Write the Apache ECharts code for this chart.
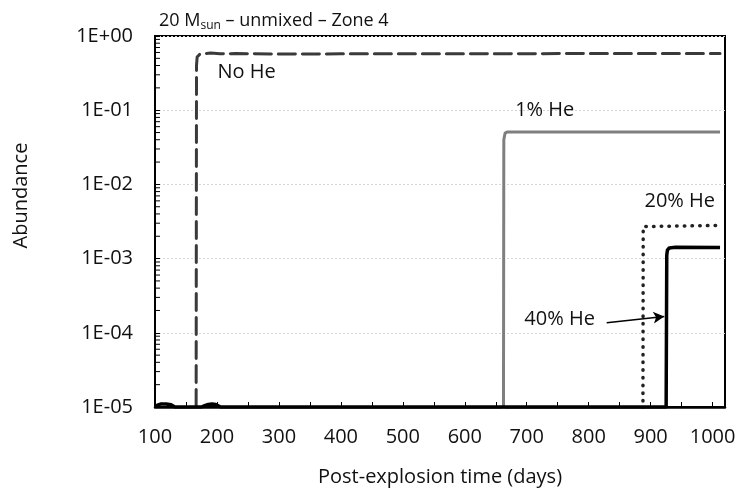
<!DOCTYPE html>
<html>
<head>
<meta charset="utf-8">
<script src="https://cdn.jsdelivr.net/npm/echarts@6/dist/echarts.min.js"></script>
<style>html,body{margin:0;padding:0;background:#fff}#c{width:747px;height:492px}</style>
</head>
<body>
<div id="c"></div>
<script>
// ---- data ----
const xTickStep = 50;                 // ticks every 50 days, labels every 100
const xMin = 100, xMax = 1020;
const yMin = 1e-5, yMax = 1;

const noHeX = [100, 166, 167, 168, 172, 180, 190, 205, 230, 300, 400, 600, 800, 1012];
const noHeY = [1e-8, 1e-8, 0.40, 0.52, 0.565, 0.58, 0.59, 0.575, 0.58, 0.57, 0.575, 0.575, 0.58, 0.58];

const onePctX = [100, 662, 663, 665, 669, 700, 1012];
const onePctY = [1e-8, 1e-8, 0.04, 0.049, 0.051, 0.051, 0.051];

const twentyX = [100, 887, 888, 890, 1012];
const twentyY = [1e-8, 1e-8, 0.0027, 0.0028, 0.0028];

const fortyX = [100, 104, 110, 118, 126, 132, 175, 180, 186, 192, 198, 206, 925, 926, 927, 930, 940, 1012];
const fortyY = [1e-5, 1.06e-5, 1.1e-5, 1.1e-5, 1.07e-5, 1e-5, 1e-5, 1.04e-5, 1.08e-5, 1.1e-5, 1.08e-5, 1e-5, 1e-5, 1.1e-3, 1.3e-3, 1.39e-3, 1.42e-3, 1.41e-3];

const labelTexts = ['No He', '1% He', '20% He', '40% He'];
const labelX = [248, 729, 947, 753];
const labelY = [0.32, 0.1, 0.006, 1.5e-4];

const arrowFrom = [829, 1.37e-4];
const arrowTo = [922, 1.66e-4];

const minorMantissas = [2, 3, 4, 5, 6, 7, 8, 9];
const decades = [-5, -4, -3, -2, -1];

// ---- build ----
const zip = (xs, ys) => xs.map((x, i) => [x, ys[i]]);
const yMinorTicks = [];
decades.forEach(d => minorMantissas.forEach(m => yMinorTicks.push([xMin, m * Math.pow(10, d)])));

const FONT = 'Open Sans';
const chart = echarts.init(document.getElementById('c'), null, {renderer: 'canvas'});
chart.setOption({
  animation: false,
  backgroundColor: '#fff',
  textStyle: {fontFamily: FONT},
  title: {
    text: '{n|20 M}{s|sun}{n| – unmixed – Zone 4}',
    left: 154, top: 5,
    textStyle: {
      fontWeight: 'normal',
      rich: {
        n: {fontFamily: FONT, fontSize: 18, fontWeight: 'normal', color: '#111'},
        s: {fontFamily: FONT, fontSize: 12, fontWeight: 'normal', color: '#111', padding: [10, 0, 0, 0]}
      }
    }
  },
  grid: {left: 155, right: 22, top: 36, bottom: 82, show: true, borderColor: '#000', borderWidth: 2, containLabel: false},
  xAxis: {
    type: 'value', min: xMin, max: xMax, interval: xTickStep,
    name: 'Post-explosion time (days)', nameLocation: 'middle', nameGap: 60,
    nameTextStyle: {fontFamily: FONT, fontSize: 20, color: '#111'},
    axisLine: {lineStyle: {color: '#000', width: 2.5}},
    axisTick: {inside: true, length: 5, interval: 0, lineStyle: {color: '#000', width: 1}},
    axisLabel: {
      interval: 0, margin: 20, fontFamily: FONT, fontSize: 20, color: '#111',
      formatter: v => (v % 100 === 0 && v <= 1000) ? String(v) : ''
    },
    splitLine: {show: false}
  },
  yAxis: {
    type: 'log', logBase: 10, min: yMin, max: yMax,
    name: 'Abundance', nameLocation: 'middle', nameGap: 124, nameRotate: 90,
    nameTextStyle: {fontFamily: FONT, fontSize: 20, color: '#111', padding: [0, 0, 0, 52]},
    axisLine: {lineStyle: {color: '#000', width: 2}},
    axisTick: {inside: true, length: 5, lineStyle: {color: '#000', width: 1}},
    axisLabel: {
      margin: 22, fontFamily: FONT, fontSize: 20, color: '#111',
      formatter: v => {
        const e = Math.round(Math.log10(v));
        return '1E' + (e < 0 ? '-' : '+') + String(Math.abs(e)).padStart(2, '0');
      }
    },
    splitLine: {show: true, lineStyle: {color: '#d4d4d4', width: 1, type: [2, 2]}}
  },
  series: [
    {
      name: 'No He', type: 'line', data: zip(noHeX, noHeY), showSymbol: false, symbol: 'none',
      lineStyle: {color: '#3a3a3a', width: 3, type: [17, 7], cap: 'round', join: 'round'}, z: 3
    },
    {
      name: '1% He', type: 'line', data: zip(onePctX, onePctY), showSymbol: false, symbol: 'none',
      lineStyle: {color: '#7f7f7f', width: 3, join: 'round'}, z: 3
    },
    {
      name: '20% He', type: 'line', data: zip(twentyX, twentyY), showSymbol: false, symbol: 'none',
      lineStyle: {color: '#222', width: 3.5, type: [0.5, 7.2], cap: 'round'}, z: 3
    },
    {
      name: '40% He', type: 'line', data: zip(fortyX, fortyY), showSymbol: false, symbol: 'none',
      lineStyle: {color: '#000', width: 3.5, join: 'round'}, z: 4,
      markLine: {
        silent: true, animation: false, symbol: ['none', 'arrow'], symbolSize: [9, 11],
        lineStyle: {color: '#000', width: 1.5, type: 'solid'},
        label: {show: false},
        data: [[{coord: arrowFrom}, {coord: arrowTo}]]
      }
    },
    {
      name: 'labels', type: 'scatter', silent: true, symbolSize: 1,
      itemStyle: {color: 'rgba(255,255,255,0)'},
      data: labelTexts.map((t, i) => [labelX[i], labelY[i], t]),
      label: {
        show: true, position: 'inside', formatter: p => p.data[2], opacity: 1,
        fontFamily: FONT, fontSize: 20, color: '#111', textBorderWidth: 0
      }, z: 6
    },
    {
      name: 'yMinorTicks', type: 'custom', silent: true, clip: false, z: 5,
      data: yMinorTicks,
      renderItem: (params, api) => {
        const p = api.coord([api.value(0), api.value(1)]);
        return {type: 'line', shape: {x1: p[0], y1: p[1], x2: p[0] + 5, y2: p[1]}, style: {stroke: '#000', lineWidth: 1}};
      }
    }
  ]
});
</script>
</body>
</html>
